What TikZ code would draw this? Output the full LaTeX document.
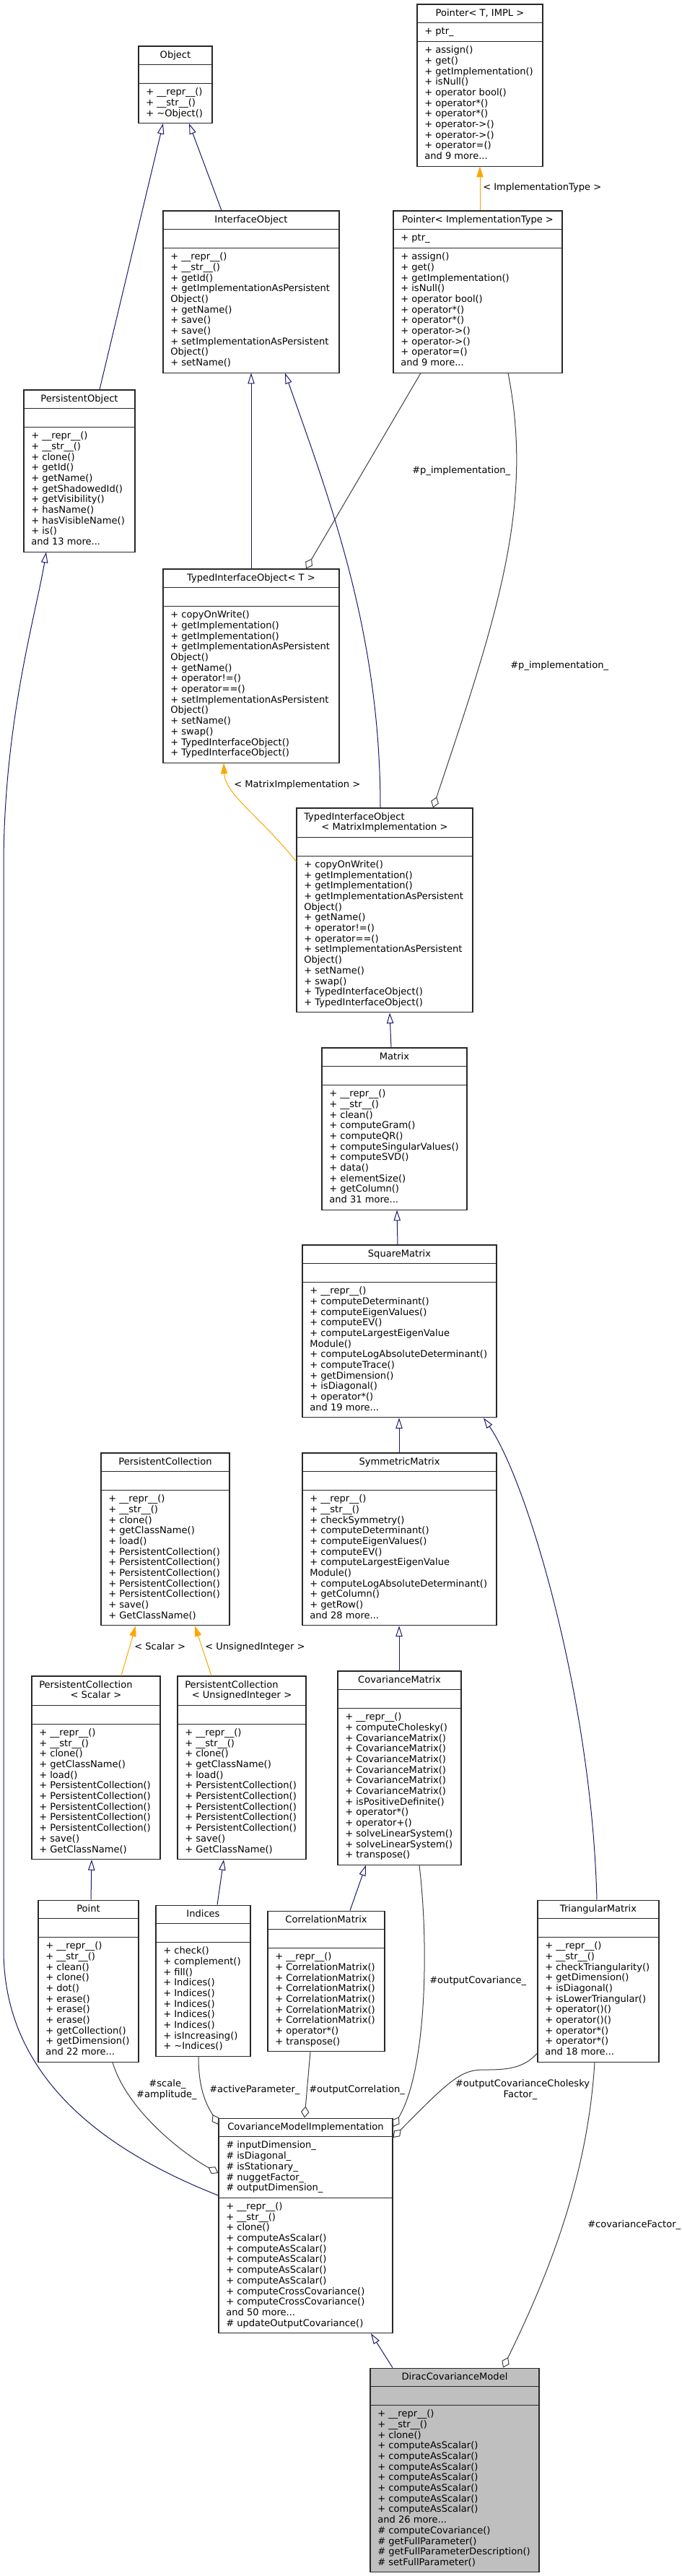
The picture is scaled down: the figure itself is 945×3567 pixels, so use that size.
\documentclass[tikz,border=0pt]{standalone}
\usepackage{fontspec}
\setmainfont{DejaVu Sans}
\usetikzlibrary{arrows.meta,fit,calc}
\definecolor{inhblue}{RGB}{25,25,112}
\definecolor{tmplorange}{RGB}{255,165,0}
\definecolor{agggray}{RGB}{64,64,64}
\definecolor{diracgray}{RGB}{191,191,191}
\definecolor{boxline}{RGB}{40,40,40}
\tikzset{
  clsbox/.style={draw=boxline, line width=0.8pt, inner sep=0pt, rectangle},
  clssep/.style={draw=boxline, line width=0.8pt},
  clsfont/.style={font={\fontsize{9.8pt}{11.025pt}\selectfont}},
  clstitle/.style={clsfont, anchor=base, inner sep=0pt},
  clstext/.style={clsfont, anchor=north west, inner sep=0pt, align=left},
  lbl/.style={clsfont, inner sep=0pt, text=black},
  inh/.style={draw=inhblue, line width=0.75pt, -{Triangle[open, length=11pt, width=7pt]}},
  tmpl/.style={draw=tmplorange, line width=0.75pt, -{Triangle[length=11pt, width=7pt, fill=tmplorange]}},
  agg/.style={draw=agggray, line width=0.75pt, -{Diamond[open, length=12pt, width=8.5pt]}},
}
% #1 name, #2 x1, #3 x2, #4 top, #5 title lines, #6 attr lines, #7 method lines, #8 title, #9 methods
\newcommand{\umlcls}[9]{%
  \pgfmathsetmacro{\clsYa}{#4+#5*14.7+11}%
  \pgfmathsetmacro{\clsYb}{\clsYa+#6*14.7+11}%
  \pgfmathsetmacro{\clsYc}{\clsYb+#7*14.7+11}%
  \pgfmathsetmacro{\clsXm}{(#2+#3)/2}%
  \pgfmathsetmacro{\clsXt}{#2+10}%
  \node[clsbox, fit={(#2,#4) (#3,\clsYc)}] (#1) {};
  \draw[clssep] (#2,\clsYa) -- (#3,\clsYa);
  \draw[clssep] (#2,\clsYb) -- (#3,\clsYb);
  \node[clstitle] (#1-t) at (\clsXm,#4+16) {#8};
  \node[clstext] (#1-m) at (\clsXt,\clsYb+5.3) {\rule{0pt}{8pt}#9};
}
\newcommand{\ptrmethods}{+ assign()\\+ get()\\+ getImplementation()\\+ isNull()\\+ operator bool()\\+ operator*()\\+ operator*()\\+ operator->()\\+ operator->()\\+ operator=()\\and 9 more...}
\newcommand{\tiomethods}{+ copyOnWrite()\\+ getImplementation()\\+ getImplementation()\\+ getImplementationAsPersistent\\Object()\\+ getName()\\+ operator!=()\\+ operator==()\\+ setImplementationAsPersistent\\Object()\\+ setName()\\+ swap()\\+ TypedInterfaceObject()\\+ TypedInterfaceObject()}
\newcommand{\pcmethods}{+ \_\_repr\_\_()\\+ \_\_str\_\_()\\+ clone()\\+ getClassName()\\+ load()\\+ PersistentCollection()\\+ PersistentCollection()\\+ PersistentCollection()\\+ PersistentCollection()\\+ PersistentCollection()\\+ save()\\+ GetClassName()}
\begin{document}
\begin{tikzpicture}[x=0.75pt, y=-0.75pt]
\fill[white] (0,0) rectangle (945,3567);
\useasboundingbox (0,0) rectangle (945,3567);

% ---------- classes ----------
\umlcls{Object}{192}{294}{64}{1}{1}{3}{Object}{+ \_\_repr\_\_()\\+ \_\_str\_\_()\\+ \textasciitilde Object()}

\umlcls{PTI}{578}{752}{6}{1}{1}{11}{Pointer< T, IMPL >}{\ptrmethods}
\node[clstext] (PTI-a) at (588,37) {\rule{0pt}{8pt}+ ptr\_};

\umlcls{InterfaceObject}{226}{470}{292}{1}{1}{11}{InterfaceObject}{+ \_\_repr\_\_()\\+ \_\_str\_\_()\\+ getId()\\+ getImplementationAsPersistent\\Object()\\+ getName()\\+ save()\\+ save()\\+ setImplementationAsPersistent\\Object()\\+ setName()}

\umlcls{PIT}{545}{779}{292}{1}{1}{11}{Pointer< ImplementationType >}{\ptrmethods}
\node[clstext] (PIT-a) at (555,323) {\rule{0pt}{8pt}+ ptr\_};

\umlcls{PersistentObject}{33}{187}{540}{1}{1}{11}{PersistentObject}{+ \_\_repr\_\_()\\+ \_\_str\_\_()\\+ clone()\\+ getId()\\+ getName()\\+ getShadowedId()\\+ getVisibility()\\+ hasName()\\+ hasVisibleName()\\+ is()\\and 13 more...}

\umlcls{TIOT}{226}{470}{788}{1}{1}{14}{TypedInterfaceObject< T >}{\tiomethods}

\umlcls{TIOMI}{411}{655}{1119}{2}{1}{14}{}{\tiomethods}
\node[clstitle, anchor=base west] (TIOMI-t1) at (421,1135) {TypedInterfaceObject};
\node[clstitle] (TIOMI-t2) at (533,1149.7) {< MatrixImplementation >};

\umlcls{Matrix}{446}{647}{1451}{1}{1}{11}{Matrix}{+ \_\_repr\_\_()\\+ \_\_str\_\_()\\+ clean()\\+ computeGram()\\+ computeQR()\\+ computeSingularValues()\\+ computeSVD()\\+ data()\\+ elementSize()\\+ getColumn()\\and 31 more...}

\umlcls{SquareMatrix}{419}{688}{1724}{1}{1}{12}{SquareMatrix}{+ \_\_repr\_\_()\\+ computeDeterminant()\\+ computeEigenValues()\\+ computeEV()\\+ computeLargestEigenValue\\Module()\\+ computeLogAbsoluteDeterminant()\\+ computeTrace()\\+ getDimension()\\+ isDiagonal()\\+ operator*()\\and 19 more...}

\umlcls{SymmetricMatrix}{419}{688}{2012}{1}{1}{12}{SymmetricMatrix}{+ \_\_repr\_\_()\\+ \_\_str\_\_()\\+ checkSymmetry()\\+ computeDeterminant()\\+ computeEigenValues()\\+ computeEV()\\+ computeLargestEigenValue\\Module()\\+ computeLogAbsoluteDeterminant()\\+ getColumn()\\+ getRow()\\and 28 more...}

\umlcls{PC}{140}{318}{2012}{1}{1}{12}{PersistentCollection}{\pcmethods}

\umlcls{PCS}{44}{222}{2321}{2}{1}{12}{}{\pcmethods}
\node[clstitle, anchor=base west] (PCS-t1) at (54,2337) {PersistentCollection};
\node[clstitle] (PCS-t2) at (133,2351.7) {< Scalar >};

\umlcls{PCU}{246}{424}{2321}{2}{1}{12}{}{\pcmethods}
\node[clstitle, anchor=base west] (PCU-t1) at (256,2337) {PersistentCollection};
\node[clstitle] (PCU-t2) at (335,2351.7) {< UnsignedInteger >};

\umlcls{CovarianceMatrix}{468}{639}{2314}{1}{1}{14}{CovarianceMatrix}{+ \_\_repr\_\_()\\+ computeCholesky()\\+ CovarianceMatrix()\\+ CovarianceMatrix()\\+ CovarianceMatrix()\\+ CovarianceMatrix()\\+ CovarianceMatrix()\\+ CovarianceMatrix()\\+ isPositiveDefinite()\\+ operator*()\\+ operator+()\\+ solveLinearSystem()\\+ solveLinearSystem()\\+ transpose()}

\umlcls{Point}{53}{192}{2631}{1}{1}{11}{Point}{+ \_\_repr\_\_()\\+ \_\_str\_\_()\\+ clean()\\+ clone()\\+ dot()\\+ erase()\\+ erase()\\+ erase()\\+ getCollection()\\+ getDimension()\\and 22 more...}

\umlcls{Indices}{216}{347}{2638}{1}{1}{10}{Indices}{+ check()\\+ complement()\\+ fill()\\+ Indices()\\+ Indices()\\+ Indices()\\+ Indices()\\+ Indices()\\+ isIncreasing()\\+ \textasciitilde Indices()}

\umlcls{CorrelationMatrix}{371}{533}{2646}{1}{1}{9}{CorrelationMatrix}{+ \_\_repr\_\_()\\+ CorrelationMatrix()\\+ CorrelationMatrix()\\+ CorrelationMatrix()\\+ CorrelationMatrix()\\+ CorrelationMatrix()\\+ CorrelationMatrix()\\+ operator*()\\+ transpose()}

\umlcls{TriangularMatrix}{745}{913}{2631}{1}{1}{11}{TriangularMatrix}{+ \_\_repr\_\_()\\+ \_\_str\_\_()\\+ checkTriangularity()\\+ getDimension()\\+ isDiagonal()\\+ isLowerTriangular()\\+ operator()()\\+ operator()()\\+ operator*()\\+ operator*()\\and 18 more...}

\umlcls{CMI}{303}{544}{2933}{1}{5}{12}{CovarianceModelImplementation}{+ \_\_repr\_\_()\\+ \_\_str\_\_()\\+ clone()\\+ computeAsScalar()\\+ computeAsScalar()\\+ computeAsScalar()\\+ computeAsScalar()\\+ computeAsScalar()\\+ computeCrossCovariance()\\+ computeCrossCovariance()\\and 50 more...\\\# updateOutputCovariance()}
\node[clstext] (CMI-a) at (313,2964) {\rule{0pt}{8pt}\# inputDimension\_\\\# isDiagonal\_\\\# isStationary\_\\\# nuggetFactor\_\\\# outputDimension\_};

\begin{scope}[clsbox/.append style={fill=diracgray}]
\umlcls{Dirac}{513}{747}{3279}{1}{1}{15}{DiracCovarianceModel}{+ \_\_repr\_\_()\\+ \_\_str\_\_()\\+ clone()\\+ computeAsScalar()\\+ computeAsScalar()\\+ computeAsScalar()\\+ computeAsScalar()\\+ computeAsScalar()\\+ computeAsScalar()\\+ computeAsScalar()\\and 26 more...\\\# computeCovariance()\\\# getFullParameter()\\\# getFullParameterDescription()\\\# setFullParameter()}
\end{scope}

% ---------- connectors ----------
\draw[inh] (PersistentObject.north -| 138,0) -- (Object.south -| 226,0);
\draw[inh] (InterfaceObject.north -| 307,0) -- (Object.south -| 262,0);
\draw[tmpl] (PIT.north -| 665,0) -- (PTI.south -| 665,0);
\draw[inh] (TIOT.north -| 348,0) -- (InterfaceObject.south -| 348,0);
\draw[inh] (TIOMI.north -| 527,0) .. controls (527,880) and (460,700) .. (InterfaceObject.south -| 395,0);
\draw[agg] (PIT.south -| 583,0) -- (TIOT.north -| 424,0);
\draw[agg] (PIT.south -| 704,0) .. controls (740,700) and (690,850) .. (TIOMI.north -| 600,0);
\draw[tmpl] (TIOMI.west |- 0,1193) .. controls (360,1130) and (312,1100) .. (TIOT.south -| 310,0);
\draw[inh] (Matrix.north -| 542,0) -- (TIOMI.south -| 540,0);
\draw[inh] (SquareMatrix.north -| 551,0) -- (Matrix.south -| 550,0);
\draw[inh] (SymmetricMatrix.north -| 553,0) -- (SquareMatrix.south -| 553,0);
\draw[inh] (TriangularMatrix.north -| 827,0) .. controls (820,2350) and (730,2050) .. (SquareMatrix.south -| 670,0);
\draw[inh] (CovarianceMatrix.north -| 553,0) -- (SymmetricMatrix.south -| 553,0);
\draw[tmpl] (PCS.north -| 168,0) -- (PC.south -| 188,0);
\draw[tmpl] (PCU.north -| 293,0) -- (PC.south -| 270,0);
\draw[inh] (Point.north -| 126,0) -- (PCS.south -| 127,0);
\draw[inh] (Indices.north -| 301,0) -- (PCU.south -| 310,0);
\draw[inh] (CorrelationMatrix.north -| 485,0) -- (CovarianceMatrix.south -| 507,0);
\draw[agg] (CovarianceMatrix.south -| 581,0) .. controls (595,2700) and (590,2870) .. (CMI.east |- 0,2945);
\draw[agg] (TriangularMatrix.west |- 0,2843) .. controls (725,2865) and (700,2866) .. (670,2866) .. controls (640,2866) and (625,2878) .. (CMI.east |- 0,2960);
\draw[agg] (TriangularMatrix.south -| 824,0) .. controls (815,3000) and (770,3130) .. (Dirac.north -| 697,0);
\draw[agg] (Point.south -| 156,0) .. controls (175,2920) and (250,2980) .. (CMI.west |- 0,3009);
\draw[agg] (Indices.south -| 275,0) .. controls (275,2900) and (290,2920) .. (CMI.west |- 0,2942);
\draw[agg] (CorrelationMatrix.south -| 430,0) -- (CMI.north -| 422,0);
\draw[inh] (CMI.west |- 0,3040) .. controls (150,2980) and (5,2880) .. (5,2700) -- (5,1200) .. controls (5,1000) and (50,850) .. (PersistentObject.south -| 64,0);
\draw[inh] (Dirac.north -| 544,0) -- (CMI.south -| 514,0);

% ---------- connector labels ----------
\node[lbl, anchor=base west] (lImpl) at (669,263) {< ImplementationType >};
\node[lbl, anchor=base west] (lP1) at (571,655) {\#p\_implementation\_};
\node[lbl, anchor=base west] (lP2) at (707,925) {\#p\_implementation\_};
\node[lbl, anchor=base west] (lMI) at (324,1090) {< MatrixImplementation >};
\node[lbl, anchor=base west] (lSc) at (186,2284) {< Scalar >};
\node[lbl, anchor=base west] (lUI) at (284,2284) {< UnsignedInteger >};
\node[lbl, anchor=base west] (lOC) at (595,2746) {\#outputCovariance\_};
\node[lbl, anchor=base] (lScale) at (232,2889) {\#scale\_};
\node[lbl, anchor=base] (lAmp) at (231,2904) {\#amplitude\_};
\node[lbl, anchor=base west] (lAP) at (290,2897) {\#activeParameter\_};
\node[lbl, anchor=base west] (lOCorr) at (428,2897) {\#outputCorrelation\_};
\node[lbl, anchor=base] (lChol1) at (724,2889) {\#outputCovarianceCholesky};
\node[lbl, anchor=base] (lChol2) at (721,2904) {Factor\_};
\node[lbl, anchor=base west] (lCF) at (814,3084) {\#covarianceFactor\_};
\end{tikzpicture}
\end{document}
